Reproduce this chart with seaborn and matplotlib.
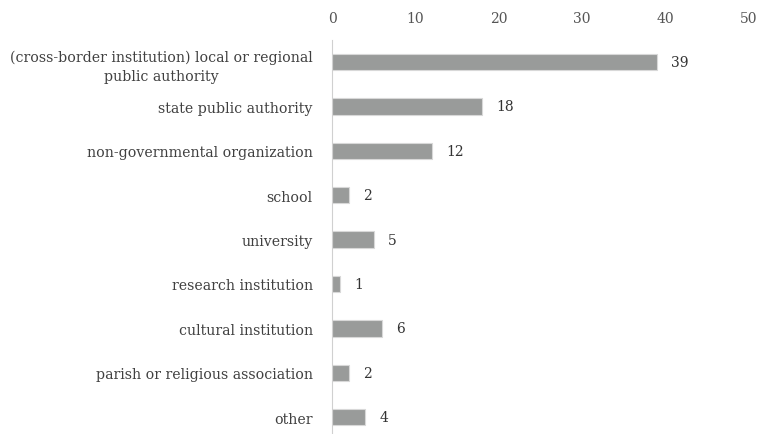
import pandas as pd
import seaborn as sns
import matplotlib.pyplot as plt


kategori = ['(cross-border institution) local or regional\npublic authority',
            'state public authority',
            'non-governmental organization',
            'school',
            'university',
            'research institution',
            'cultural institution',
            'parish or religious association',
            'other']
jumlah = [39, 18, 12, 2, 5, 1, 6, 2, 4]
ticks_x = [0, 10, 20, 30, 40, 50]

df = pd.DataFrame({'kategori': kategori, 'jumlah': jumlah})

sns.set_style('white')
plt.rcParams['font.family'] = ['DejaVu Serif']

fig = plt.figure(figsize=(7.6, 4.35), dpi=100)
ax = fig.add_axes([0.437, 0.0, 0.5485, 0.906])

sns.barplot(data=df, x='jumlah', y='kategori', orient='h', color='#999b9a',
            width=0.37, edgecolor='#d8d8d8', linewidth=0.8, saturation=1, ax=ax)

for c in ax.containers:
    ax.bar_label(c, padding=10, fontsize=10, color='#333333')

ax.set_xlim(0, 50)
ax.set_ylim(8.38, -0.5)
ax.set_xticks(ticks_x)
ax.xaxis.tick_top()
ax.tick_params(axis='x', length=0, pad=10.5, labelsize=10, labelcolor='#555555')
ax.tick_params(axis='y', length=0, pad=14, labelsize=10.2, labelcolor='#404040')
for lbl in ax.get_yticklabels():
    lbl.set_multialignment('center')
    lbl.set_linespacing(1.45)
ax.set_xlabel('')
ax.set_ylabel('')
for s in ['top', 'right', 'bottom']:
    ax.spines[s].set_visible(False)
ax.spines['left'].set_color('#d0d0d0')

plt.savefig('out.png', dpi=100)
